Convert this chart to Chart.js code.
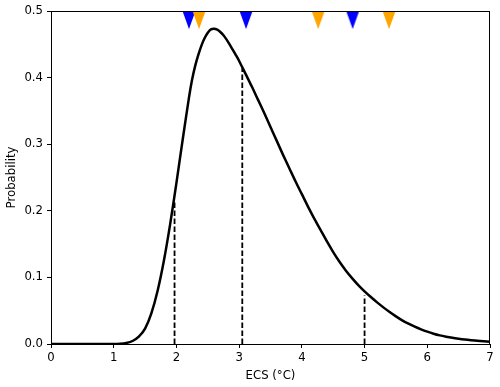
<!DOCTYPE html>
<html>
<head>
<meta charset="utf-8">
<script src="https://cdn.jsdelivr.net/npm/chart.js@4"></script>
<style>
html,body{margin:0;padding:0;background:#fff;}
#wrap{width:500px;height:387px;}
</style>
</head>
<body>
<div id="wrap"><canvas id="c" width="500" height="387"></canvas></div>
<script>
// ECS grid (°C) and probability density
const ecs = [0,0.5,1.0,1.1,1.2,1.3,1.4,1.5,1.6,1.7,1.8,1.9,2.0,2.1,2.2,2.25,2.3,2.35,2.4,2.45,2.5,2.55,2.6,2.65,2.7,2.75,2.8,2.85,2.9,2.95,3.0,3.1,3.2,3.3,3.4,3.5,3.6,3.7,3.8,3.9,4.0,4.1,4.2,4.3,4.4,4.5,4.6,4.7,4.8,4.9,5.0,5.1,5.2,5.3,5.4,5.5,5.6,5.7,5.8,5.9,6.0,6.1,6.2,6.3,6.4,6.5,6.6,6.7,6.8,6.9,7.0];
const prob = [0,0,0,0.0003,0.0015,0.0045,0.011,0.023,0.046,0.080,0.125,0.180,0.242,0.307,0.370,0.397,0.418,0.4345,0.4485,0.4595,0.4675,0.4725,0.4735,0.472,0.4685,0.4635,0.457,0.4495,0.4415,0.4335,0.425,0.406,0.387,0.367,0.347,0.326,0.305,0.284,0.264,0.244,0.225,0.206,0.188,0.171,0.154,0.138,0.1235,0.1105,0.099,0.0885,0.079,0.0705,0.0625,0.055,0.048,0.0415,0.0355,0.0305,0.026,0.022,0.0185,0.0155,0.013,0.011,0.0093,0.0079,0.0067,0.0057,0.0048,0.0041,0.0035];
// dashed reference lines: x position and top value
const markX = [1.97, 3.05, 5.0];
const markY = [0.215, 0.414, 0.073];
// top triangle markers
const blueX = [2.20, 3.11, 4.81];
const orangeX = [2.36, 4.26, 5.39];
const markerY = 0.5;
const xTicks = [0,1,2,3,4,5,6,7];
const yTicks = [0.0,0.1,0.2,0.3,0.4,0.5];

function triImg(color){
  const cv = document.createElement('canvas');
  cv.width = 14; cv.height = 38;
  const g = cv.getContext('2d');
  g.fillStyle = color;
  g.beginPath();
  g.moveTo(0.5,19); g.lineTo(13.5,19); g.lineTo(7,37); g.closePath();
  g.fill();
  return cv;
}

const datasets = [];
datasets.push({
  data: orangeX.map(x=>({x:x,y:markerY})),
  showLine:false, pointStyle: triImg('#ffa500'), pointRadius: 7, clip:false
});
datasets.push({
  data: blueX.map(x=>({x:x,y:markerY})),
  showLine:false, pointStyle: triImg('#0000ff'), pointRadius: 7, clip:false
});
datasets.push({
  data: ecs.map((x,i)=>({x:x,y:prob[i]})),
  showLine:true, borderColor:'#000', borderWidth:2.5, pointRadius:0, tension:0.3, fill:false,
  borderJoinStyle:'round', borderCapStyle:'round'
});
markX.forEach((x,i)=>{
  datasets.push({
    data:[{x:x,y:0},{x:x,y:markY[i]}],
    showLine:true, borderColor:'#000', borderWidth:1.8, borderDash:[5.5,2.5], pointRadius:0, fill:false
  });
});

const frame = {
  id:'frame',
  afterDatasetsDraw(chart){
    const {ctx, chartArea:a} = chart;
    ctx.save();
    ctx.strokeStyle = '#000';
    ctx.lineWidth = 1;
    ctx.strokeRect(Math.round(a.left)+0.5, Math.round(a.top)+0.5, Math.round(a.right-a.left)-1, Math.round(a.bottom-a.top));
    ctx.restore();
  }
};

const font = {family:'DejaVu Sans', size:11.7};
new Chart(document.getElementById('c'), {
  type:'scatter',
  data:{datasets},
  plugins:[frame],
  options:{
    responsive:false, animation:false, devicePixelRatio:1,
    layout:{padding:{top:10,right:10,left:0,bottom:0}},
    plugins:{legend:{display:false}, tooltip:{enabled:false}},
    scales:{
      x:{
        type:'linear', min:0, max:7,
        afterBuildTicks(s){ s.ticks = xTicks.map(v=>({value:v})); },
        afterFit(s){ s.height = 43; },
        grid:{drawOnChartArea:false, tickLength:4, tickColor:'#000'},
        border:{color:'#000'},
        ticks:{color:'#000', font, padding:3, maxRotation:0, callback:v=>String(v)},
        title:{display:true, text:'ECS (°C)', color:'#000', font, padding:{top:0,bottom:4}}
      },
      y:{
        type:'linear', min:0, max:0.5,
        afterBuildTicks(s){ s.ticks = yTicks.map(v=>({value:v})); },
        afterFit(s){ s.width = 51; },
        grid:{drawOnChartArea:false, tickLength:4, tickColor:'#000'},
        border:{color:'#000'},
        ticks:{color:'#000', font, padding:4, callback:v=>v.toFixed(1)},
        title:{display:true, text:'Probability', color:'#000', font, padding:{top:5,bottom:0}}
      }
    }
  }
});
</script>
</body>
</html>
